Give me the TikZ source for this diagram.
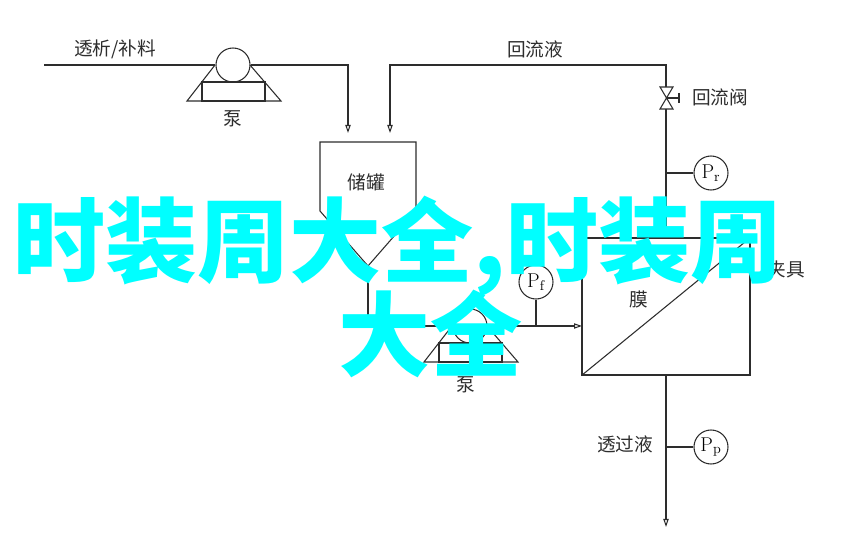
\documentclass[tikz,border=0pt]{standalone}
\usepackage{fontspec}
\newfontfamily\cjk{Noto Sans CJK SC}
\definecolor{pipeline}{RGB}{45,45,45}
\definecolor{stamp}{RGB}{0,255,255}
\usetikzlibrary{arrows.meta, positioning, calc}

\begin{document}
\begin{tikzpicture}[
  x=0.75pt, y=-0.75pt,
  pipe/.style={draw=pipeline, line width=0.8pt},
  arr/.style={pipe, -{Triangle[open, length=6pt, width=4pt]}},
  gauge/.style={circle, pipe, fill=white, minimum size=25.5pt, inner sep=0pt, font=\fontsize{15}{15}\selectfont},
  pumpball/.style={circle, pipe, minimum size=25.5pt, inner sep=0pt},
  lbl/.style={font=\cjk\fontsize{14}{14}\selectfont, text=pipeline, inner sep=0pt},
  stamptext/.style={font=\cjk\bfseries\fontsize{69}{69}\selectfont, text=stamp, inner sep=0pt}
]
\useasboundingbox (0,0) rectangle (858,555);

% pumps
\foreach \pname/\cx/\cy in {pumpa/233/65, pumpb/470/326} {
  \node[pumpball] (\pname) at (\cx,\cy) {};
  \draw[pipe] (\cx-18,\cy) -- (\cx-46,\cy+36) -- (\cx+48,\cy+36) -- (\cx+17,\cy);
  \draw[pipe] (\cx-31,\cy+17) rectangle (\cx+32,\cy+36);
}
\node[lbl] (pumpalbl) at (233,119) {泵};
\node[lbl] (pumpblbl) at (466,385) {泵};

% tank
\coordinate (tankfeed) at (348,141);
\coordinate (tankback) at (390,141);
\coordinate (tanktip) at (368,266);
\draw[pipe] (320,142) -- (416,142) -- (416,211) -- (tanktip) -- (320,211) -- cycle;
\node[lbl] (tanklbl) at (366,182) {储罐};

% membrane
\node[rectangle, pipe, minimum width=126pt, minimum height=102.75pt, inner sep=0pt] (membrane) at (666,306.5) {};
\draw[pipe] (membrane.south west) -- (membrane.north east);
\node[lbl] (membranelbl) at (639,299) {膜};
\node[lbl] (clamplbl) at (786,269) {夹具};

% valve
\coordinate (valvetop) at (666,87);
\coordinate (valvemid) at (666,98);
\coordinate (valvebot) at (666,109);
\draw[pipe] (660,87) -- (673,87) -- (660,109) -- (673,109) -- cycle;
\draw[pipe] (valvemid) -- (679,98);
\draw[pipe] (679,93) -- (679,103);
\node[lbl] (valvelbl) at (720,97) {回流阀};

% gauges
\node[gauge] (gaugef) at (536,282) {$\mathrm{P_f}$};
\node[gauge] (gauger) at (711,173) {$\mathrm{P_r}$};
\node[gauge] (gaugep) at (711,447) {$\mathrm{P_p}$};

% pipes
\coordinate (feedin) at (44,65);
\coordinate (feedout) at (666,527);
\draw[pipe] (feedin) -- (pumpa.west);
\draw[arr] (pumpa.east) -- (348,65) -- ($(tankfeed)+(0,-8)$);
\draw[arr] (valvetop) -- (666,65) -- (390,65) -- ($(tankback)+(0,-8)$);
\draw[pipe] (valvebot) -- (membrane.north);
\draw[pipe] (tanktip) -- (368,326) -- (pumpb.west);
\draw[arr] (pumpb.east) -- (582,326);
\draw[pipe] (gaugef.south) -- (536,326);
\draw[pipe] (gauger.west) -- (666,173);
\draw[arr] (membrane.south) -- (feedout);
\draw[pipe] (gaugep.west) -- (666,447);

\node[lbl] (feedlbl) at (115,49) {透析/补料};
\node[lbl] (backlbl) at (535,49) {回流液};
\node[lbl] (permlbl) at (625,444) {透过液};

% stamp over the drawing
\node[stamptext] (stampa) at (398,246) {时装周大全,时装周};
\node[stamptext] (stampb) at (430,334) {大全};
\end{tikzpicture}
\end{document}
